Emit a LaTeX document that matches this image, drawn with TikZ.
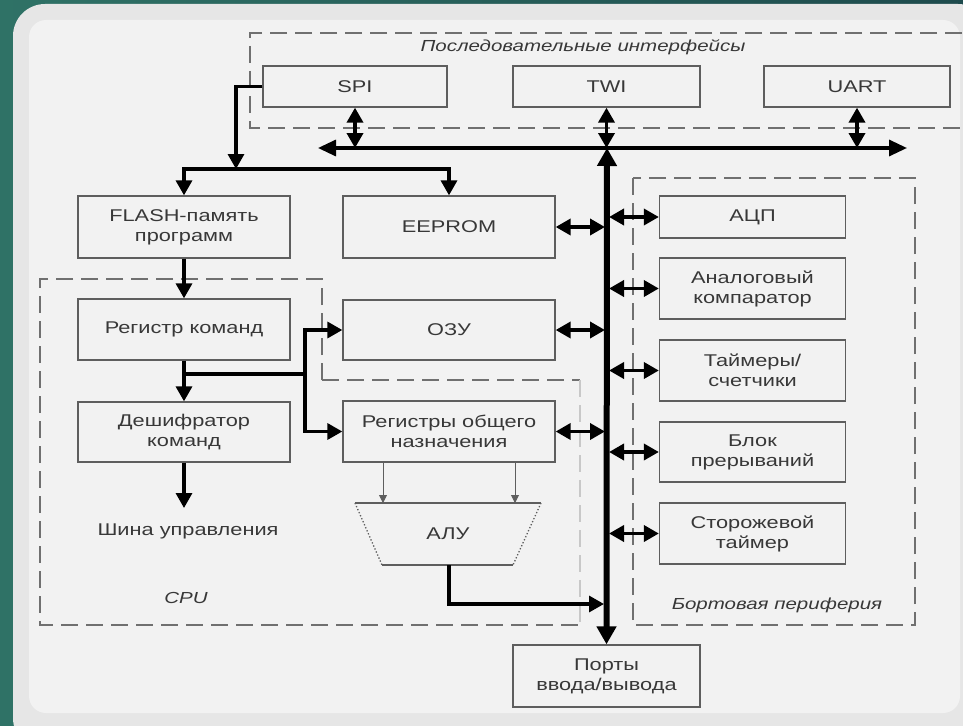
\documentclass[tikz,border=0pt]{standalone}
\usepackage{fontspec}
\setmainfont{Liberation Sans}[FakeStretch=1.28]
\usetikzlibrary{arrows.meta,calc}
\definecolor{bgA}{HTML}{2F7266}
\definecolor{bgB}{HTML}{1E4B4D}
\definecolor{framec}{HTML}{E6E6E6}
\definecolor{panel}{HTML}{F2F2F2}
\definecolor{ink}{HTML}{383838}
\definecolor{edgec}{HTML}{5E5E5E}
\definecolor{dashc}{HTML}{707070}
\definecolor{dashl}{HTML}{C8C8C8}
\tikzset{
  lbl/.style={text=ink, font=\fontsize{17}{20}\selectfont, align=center, inner sep=0pt},
  ital/.style={text=ink, font=\fontsize{16}{19}\selectfont\itshape, inner sep=0pt},
  box/.style={lbl, draw=edgec, line width=1.3pt, fill=panel},
  fat/.style={line width=3.3pt, black},
  arr/.style={fat, -{Triangle[width=16pt,length=15pt]}},
  dbl/.style={line width=3.6pt, black, {Triangle[width=16pt,length=15pt]}-{Triangle[width=16pt,length=15pt]}},
  thinarr/.style={line width=0.9pt, edgec, -{Triangle[width=8pt,length=8pt]}},
  dsh/.style={dashc, line width=1.5pt, dash pattern=on 17pt off 8pt},
  dshl/.style={dashl, line width=1.5pt, dash pattern=on 17pt off 8pt},
}
\begin{document}
\begin{tikzpicture}[x=1pt,y=-1pt]
\useasboundingbox (0,0) rectangle (963,725);
\clip (0,0) rectangle (963,725);
\shade[left color=bgA, right color=bgB] (0,0) rectangle (963,725);
\fill[framec, rounded corners=32pt] (13,4) rectangle (990,750);
\fill[panel, rounded corners=17pt] (29,20) rectangle (960,713);

% dashed regions
\draw[dsh] (962,33) -- (250,33) -- (250,128) -- (962,128);
\node[ital] (serlbl) at (583,47) {Последовательные интерфейсы};
\draw[dsh] (322,380) -- (322,279) -- (40,279) -- (40,625) -- (580,625);
\draw[dsh] (322,380) -- (580,380);
\draw[dshl] (580,380) -- (580,625);
\node[ital] (cpulbl) at (186,598) {CPU};
\draw[dsh] (633,178) rectangle (915,625);
\node[ital] (perlbl) at (777,605) {Бортовая периферия};

% boxes
\node[box, minimum width=184pt, minimum height=41pt] (SPI) at (355,86.5) {SPI};
\node[box, minimum width=187pt, minimum height=41pt] (TWI) at (606.5,86.5) {TWI};
\node[box, minimum width=186pt, minimum height=41pt] (UART) at (857,86.5) {UART};
\node[box, minimum width=212pt, minimum height=62pt] (FLASH) at (184,227) {FLASH-память\\программ};
\node[box, minimum width=212pt, minimum height=62pt] (EEPROM) at (449,227) {EEPROM};
\node[box, minimum width=212pt, minimum height=61pt] (RK) at (184,329.5) {Регистр команд};
\node[box, minimum width=212pt, minimum height=60pt] (OZU) at (449,330) {ОЗУ};
\node[box, minimum width=212pt, minimum height=60pt] (DK) at (184,432) {Дешифратор\\команд};
\node[box, minimum width=212pt, minimum height=61pt] (RON) at (449,431.5) {Регистры общего\\назначения};
\node[box, minimum width=186pt, minimum height=42pt] (ADC) at (752.5,217) {АЦП};
\node[box, minimum width=186pt, minimum height=61pt] (AK) at (752.5,288.5) {Аналоговый\\компаратор};
\node[box, minimum width=186pt, minimum height=61pt] (TS) at (752.5,370.5) {Таймеры/\\счетчики};
\node[box, minimum width=186pt, minimum height=60pt] (BP) at (752.5,452) {Блок\\прерываний};
\node[box, minimum width=186pt, minimum height=61pt] (ST) at (752.5,533.5) {Сторожевой\\таймер};
\node[box, minimum width=187pt, minimum height=62pt] (Ports) at (606.5,676) {Порты\\ввода/вывода};

% ALU
\coordinate (aTL) at (355,503);
\coordinate (aTR) at (541,503);
\coordinate (aBL) at (382,565);
\coordinate (aBR) at (513,565);
\draw[edgec, line width=1.3pt] (aTL) -- (aTR);
\draw[edgec, line width=1.3pt] (aBL) -- (aBR);
\draw[edgec, line width=1.3pt, dotted] (aTL) -- (aBL);
\draw[edgec, line width=1.3pt, dotted] (aTR) -- (aBR);
\node[lbl] (alu) at (448,534) {АЛУ};
\node[lbl] (ctrl) at (188,531) {Шина управления};

% buses
\coordinate (hL) at (318,148);
\coordinate (hR) at (907,148);
\coordinate (bT) at (607,148);
\draw[line width=3.3pt, {Triangle[width=16pt,length=18pt]}-{Triangle[width=16pt,length=18pt]}] (hL) -- (hR);
\draw[line width=6pt, {Triangle[width=19pt,length=18pt]}-{Triangle[width=19pt,length=18pt]}] (Ports.north) -- (bT);

% serial interfaces to bus
\draw[dbl] (SPI.south) -- (SPI.south |- hL);
\draw[dbl] (TWI.south) -- (TWI.south |- hL);
\draw[dbl] (UART.south) -- (UART.south |- hL);

% SPI to memories
\coordinate (br) at (236,169);
\draw[arr] (SPI.west) -| (br);
\draw[fat, {Triangle[width=16pt,length=15pt]}-{Triangle[width=16pt,length=15pt]}] (FLASH.north) |- (br) -| (EEPROM.north);

% CPU flow
\draw[arr] (FLASH) -- (RK);
\draw[arr] (RK) -- (DK);
\coordinate (j1) at (184,374);
\coordinate (j2) at (305,374);
\draw[fat] (j1) -- (j2);
\draw[arr] (j2) |- (OZU.west);
\draw[arr] (j2) |- (RON.west);
\coordinate (ctip) at (184,508);
\draw[arr] (DK.south) -- (ctip);

% registers to ALU
\coordinate (i1) at (383,503);
\coordinate (i2) at (515,503);
\draw[thinarr] (RON.south -| i1) -- (i1);
\draw[thinarr] (RON.south -| i2) -- (i2);
\coordinate (aout) at (449,565);
\coordinate (aturn) at (449,604);
\draw[arr, shorten >=3pt] (aout) -- (aturn) -- (aturn -| bT);

% memory and peripherals to bus
\draw[dbl, shorten >=2pt] (EEPROM.east) -- (EEPROM.east -| bT);
\draw[dbl, shorten >=2pt] (OZU.east) -- (OZU.east -| bT);
\draw[dbl, shorten >=2pt] (RON.east) -- (RON.east -| bT);
\draw[dbl, shorten >=2pt] (ADC.west) -- (ADC.west -| bT);
\draw[dbl, shorten >=2pt] (AK.west) -- (AK.west -| bT);
\draw[dbl, shorten >=2pt] (TS.west) -- (TS.west -| bT);
\draw[dbl, shorten >=2pt] (BP.west) -- (BP.west -| bT);
\draw[dbl, shorten >=2pt] (ST.west) -- (ST.west -| bT);
\end{tikzpicture}
\end{document}
